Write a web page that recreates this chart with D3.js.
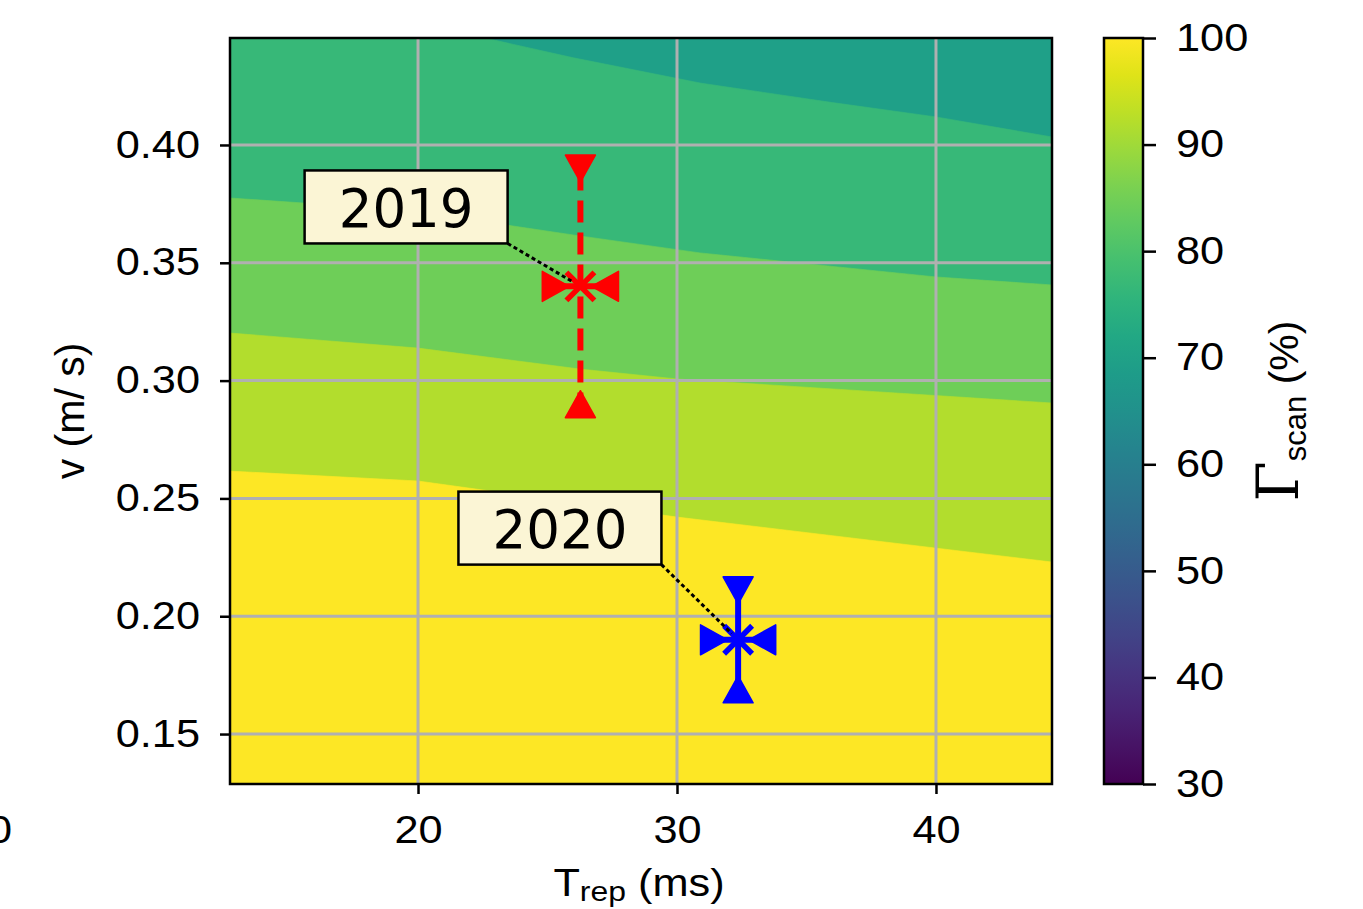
<!DOCTYPE html>
<html><head><meta charset="utf-8">
<script src="https://cdn.jsdelivr.net/npm/d3@7"></script>
<style>body{margin:0;background:#fff;} svg{display:block;}</style>
</head><body><svg id="c" width="1363" height="909"></svg>
<script>
// ---- data ----
const xTicks = [20, 30, 40];
const yTicks = [0.15, 0.20, 0.25, 0.30, 0.35, 0.40];
const cbTicks = [30, 40, 50, 60, 70, 80, 90, 100];
const xDomain = [12.74, 44.48];
const yDomain = [0.1288, 0.4454];
const cbDomain = [30, 100];
// filled-contour band values (colour of each band), lowest band first
const bandValues = [69.5, 77, 84.5, 92, 100];
// contour boundaries (lower edge of each band above the lowest), in (T, v)
const b77T = [22.59, 26.0, 30.89, 36.0, 40.0, 44.48];
const b77V = [0.4454, 0.4370, 0.4263, 0.4180, 0.4119, 0.4034];
const b85T = [12.74, 15.56, 20.0, 26.25, 30.89, 40.0, 44.48];
const b85V = [0.3775, 0.3754, 0.3716, 0.3614, 0.3542, 0.3440, 0.3406];
const b92T = [12.74, 20.0, 26.25, 30.0, 44.48];
const b92V = [0.3202, 0.3138, 0.3049, 0.3007, 0.2905];
const b100T = [12.74, 20.0, 30.0, 44.48];
const b100V = [0.2616, 0.2574, 0.2421, 0.2230];
// measurements
const years = ["2019", "2020"];
const pointT = [26.27, 32.36];
const pointV = [0.34, 0.19];
const errT = [0.95, 0.93];
const errV = [0.05, 0.021];
const labelT = [19.54, 25.48];
const labelV = [0.3737, 0.2374];
const colors = ["#ff0000", "#0000ff"];

// ---- layout ----
const svg = d3.select("#c");
const L = 230, R = 1052, T = 38, B = 784;
const SX = 1.14; // horizontal glyph stretch of the sans text
const x = d3.scaleLinear().domain(xDomain).range([L, R]);
const y = d3.scaleLinear().domain(yDomain).range([B, T]);
const cb = d3.scaleLinear().domain(cbDomain).range([B, T]);
const col = v => d3.interpolateViridis((v - cbDomain[0]) / (cbDomain[1] - cbDomain[0]));
const FONT = "'Liberation Sans', Arial, sans-serif";

function stretch(node) {
  const xx = +node.getAttribute("x") || 0, yy = +node.getAttribute("y") || 0;
  node.setAttribute("x", 0); node.setAttribute("y", 0);
  node.setAttribute("transform", `translate(${xx},${yy}) scale(${SX},1)`);
}

const defs = svg.append("defs");
defs.append("clipPath").attr("id", "plotclip").append("rect")
  .attr("x", L).attr("y", T).attr("width", R - L).attr("height", B - T);

const g = svg.append("g").attr("clip-path", "url(#plotclip)");
g.append("rect").attr("x", L).attr("y", T).attr("width", R - L).attr("height", B - T)
  .attr("fill", col(bandValues[0]));
const bounds = [[b77T, b77V], [b85T, b85V], [b92T, b92V], [b100T, b100V]];
const area = d3.area().x(d => x(d[0])).y1(d => y(d[1])).y0(y(yDomain[0])).curve(d3.curveLinear);
bounds.forEach((bd, i) => {
  let pts = bd[0].map((t, k) => [t, bd[1][k]]);
  if (pts[0][0] > xDomain[0]) pts.unshift([xDomain[0], yDomain[1]]);
  g.append("path").attr("d", area(pts)).attr("fill", col(bandValues[i + 1]))
    .attr("stroke", col(bandValues[i + 1])).attr("stroke-width", 0.6);
});

// grid
const grid = svg.append("g").attr("stroke", "#b0b0b0").attr("stroke-width", 3);
xTicks.forEach(t => grid.append("line").attr("x1", x(t)).attr("x2", x(t)).attr("y1", T).attr("y2", B));
yTicks.forEach(t => grid.append("line").attr("y1", y(t)).attr("y2", y(t)).attr("x1", L).attr("x2", R));

// axes
const styleAxis = sel => {
  sel.select(".domain").remove();
  sel.selectAll(".tick line").attr("stroke", "#000").attr("stroke-width", 2.5);
  sel.selectAll(".tick text").attr("fill", "#000").style("font-family", FONT).style("font-size", "38px")
    .each(function () { stretch(this); });
};
svg.append("g").attr("transform", `translate(0,${B})`)
  .call(d3.axisBottom(x).tickValues(xTicks).tickFormat(d3.format("d")).tickSize(10).tickPadding(22))
  .call(styleAxis);
svg.append("g").attr("transform", `translate(${L},0)`)
  .call(d3.axisLeft(y).tickValues(yTicks).tickFormat(d3.format(".2f")).tickSize(10).tickPadding(20))
  .call(styleAxis);

// frame
svg.append("rect").attr("x", L).attr("y", T).attr("width", R - L).attr("height", B - T)
  .attr("fill", "none").attr("stroke", "#000").attr("stroke-width", 2.5);

// stray cut-off label at the far left
const stray = svg.append("text").attr("x", 12).attr("y", 843).attr("text-anchor", "end")
  .style("font-family", FONT).style("font-size", "38px").text("0");
stretch(stray.node());

// axis labels
const xl = svg.append("text").attr("x", 639).attr("y", 896).attr("text-anchor", "middle")
  .style("font-family", FONT).style("font-size", "38px");
xl.append("tspan").text("T");
xl.append("tspan").attr("dy", 5).style("font-size", "28px").text("rep");
xl.append("tspan").attr("dy", -5).text(" (ms)");
stretch(xl.node());
svg.append("text").attr("transform", `translate(84,${(T + B) / 2}) rotate(-90)`)
  .attr("text-anchor", "middle").style("font-family", FONT).style("font-size", "41px").text("v (m/ s)");

// markers & error bars
const tri = (w, h) => `M${-w / 2},${-h / 2}L${w / 2},${-h / 2}L0,${h / 2}Z`; // pointing down
const mk = svg.append("g");
years.forEach((yr, i) => {
  const cx = x(pointT[i]), cy = y(pointV[i]), c = colors[i];
  const yTop = y(pointV[i] + errV[i]), yBot = y(pointV[i] - errV[i]);
  const xLeft = x(pointT[i] - errT[i]), xRight = x(pointT[i] + errT[i]);
  mk.append("line").attr("x1", cx).attr("x2", cx).attr("y1", yTop).attr("y2", yBot)
    .attr("stroke", c).attr("stroke-width", 6)
    .attr("stroke-dasharray", i === 0 ? "22,10" : null);
  mk.append("line").attr("x1", xLeft).attr("x2", xRight).attr("y1", cy).attr("y2", cy)
    .attr("stroke", c).attr("stroke-width", 6);
  const tris = [[cx, yTop, 0], [cx, yBot, 180], [xLeft, cy, -90], [xRight, cy, 90]];
  tris.forEach(([tx, ty, rot]) => {
    mk.append("path").attr("d", tri(30, 27))
      .attr("transform", `translate(${tx},${ty}) rotate(${rot})`)
      .attr("fill", c).attr("stroke", c).attr("stroke-width", 1.5).attr("stroke-linejoin", "round");
  });
  const s = 14;
  mk.append("path").attr("d", `M${cx - s},${cy - s}L${cx + s},${cy + s}M${cx - s},${cy + s}L${cx + s},${cy - s}`)
    .attr("stroke", c).attr("stroke-width", 5.5);
});

// annotations
const an = svg.append("g");
years.forEach((yr, i) => {
  const tx = x(labelT[i]), ty = y(labelV[i]);
  const bw = 203, bh = 73;
  const bx1 = tx + bw / 2, by1 = ty + bh / 2;
  const px = x(pointT[i]), py = y(pointV[i]);
  const dx = px - bx1, dy = py - by1, len = Math.hypot(dx, dy), sh = 9;
  an.append("rect").attr("x", tx - bw / 2).attr("y", ty - bh / 2).attr("width", bw).attr("height", bh)
    .attr("fill", "#fbf5d5").attr("stroke", "#000").attr("stroke-width", 2.5);
  an.append("text").attr("x", tx).attr("y", ty + 20).attr("text-anchor", "middle")
    .style("font-family", "'DejaVu Sans', sans-serif").style("font-size", "53px").text(yr);
  an.append("line").attr("x1", bx1).attr("y1", by1)
    .attr("x2", px - dx / len * sh).attr("y2", py - dy / len * sh)
    .attr("stroke", "#000").attr("stroke-width", 3).attr("stroke-dasharray", "4,3");
});

// colorbar
const CL = 1104, CR = 1143;
const grad = defs.append("linearGradient").attr("id", "vir").attr("x1", 0).attr("y1", 1).attr("x2", 0).attr("y2", 0);
d3.range(0, 1.0001, 0.05).forEach(t => grad.append("stop").attr("offset", t).attr("stop-color", d3.interpolateViridis(t)));
svg.append("rect").attr("x", CL).attr("y", T).attr("width", CR - CL).attr("height", B - T)
  .attr("fill", "url(#vir)").attr("stroke", "#000").attr("stroke-width", 2.5);
svg.append("g").attr("transform", `translate(${CR},0)`)
  .call(d3.axisRight(cb).tickValues(cbTicks).tickSize(13).tickPadding(20))
  .call(styleAxis);
const cl = svg.append("text").attr("transform", `translate(1298,${(T + B) / 2}) rotate(-90)`)
  .attr("text-anchor", "middle").style("font-family", FONT).style("font-size", "41px");
cl.append("tspan").style("font-family", "'DejaVu Serif', serif").style("font-size", "58px").text("Γ");
cl.append("tspan").attr("dy", 8).style("font-size", "31px").text("scan");
cl.append("tspan").attr("dy", -8).text(" (%)");
</script></body></html>
